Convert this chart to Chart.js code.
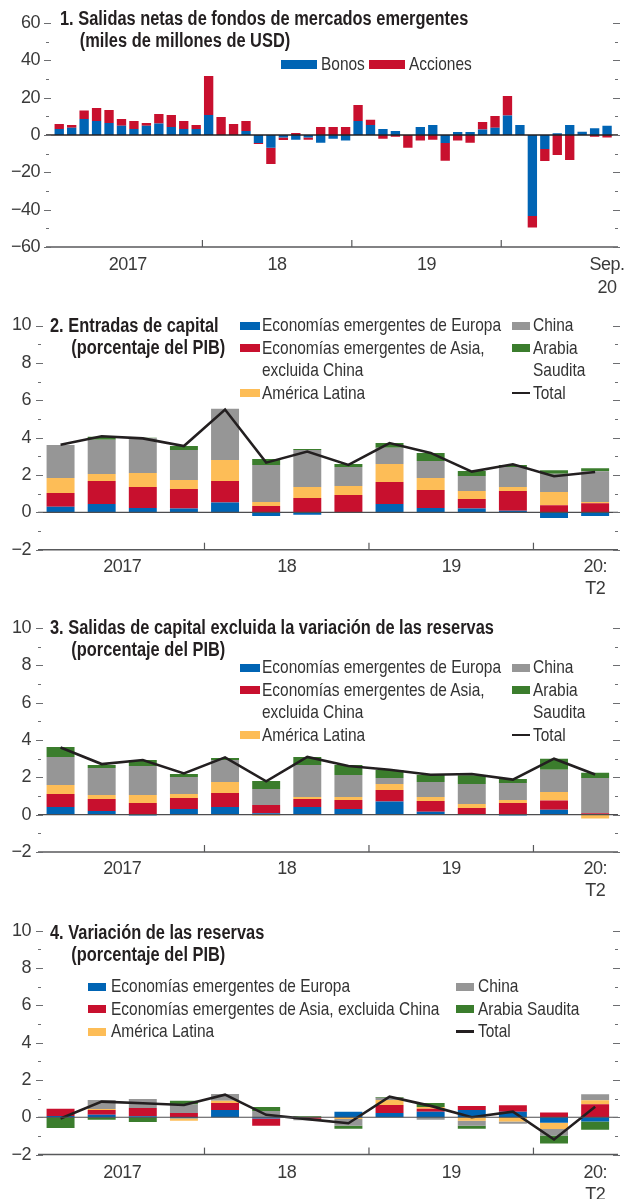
<!DOCTYPE html>
<html lang="es">
<head>
<meta charset="utf-8">
<title>Flujos de capital de mercados emergentes</title>
<script src="https://cdn.jsdelivr.net/npm/chart.js@4.4.1/dist/chart.umd.min.js"></script>
<style>
  html, body { margin: 0; padding: 0; background: #fff; }
  body {
    width: 628px; height: 1199px; position: relative; overflow: hidden;
    font-family: 'Liberation Sans', Arial, sans-serif;
    color: #231f20;
  }
  canvas { position: absolute; left: 0; }
  /* the source uses a condensed face; squeeze a regular one */
  .title { position: absolute; font-weight: bold; font-size: 20px; line-height: 22px; white-space: nowrap;
           transform: scaleX(0.82); transform-origin: left top; z-index: 2; }
  .legend { position: absolute; font-size: 19px; line-height: 22.5px; color: #333; z-index: 2; }
  .legend .item { position: relative; }
  .legend .sw { position: absolute; left: 0; }
  .legend .txt { display: inline-block; transform: scaleX(0.814); transform-origin: left top; }
  .row { display: flex; align-items: center; white-space: nowrap; }
  .row .sw { position: static; margin-right: 4px; }
  .row .txt { margin-right: -6px; }
</style>
</head>
<body>

<div class="title" style="left:60px; top:7px"><div>1. Salidas netas de fondos de mercados emergentes</div><div style="margin-left:24px">(miles de millones de USD)</div></div>
<div class="legend row" id="leg1" style="left:281px; top:53px"></div>
<canvas id="c1" width="628" height="300" style="top:0px"></canvas>

<div class="title" style="left:50px; top:314px"><div>2. Entradas de capital</div><div style="margin-left:26px">(porcentaje del PIB)</div></div>
<div class="legend" id="leg2" style="top:314px"></div>
<canvas id="c2" width="628" height="300" style="top:300px"></canvas>

<div class="title" style="left:50px; top:616px"><div>3. Salidas de capital excluida la variación de las reservas</div><div style="margin-left:26px">(porcentaje del PIB)</div></div>
<div class="legend" id="leg3" style="top:656px"></div>
<canvas id="c3" width="628" height="305" style="top:600px"></canvas>

<div class="title" style="left:50px; top:921px"><div>4. Variación de las reservas</div><div style="margin-left:26px">(porcentaje del PIB)</div></div>
<div class="legend" id="leg4" style="top:975px"></div>
<canvas id="c4" width="628" height="294" style="top:905px"></canvas>

<script>
// ---- data ----
const months = [
  'ene-17', 'feb-17', 'mar-17', 'abr-17', 'may-17', 'jun-17', 'jul-17', 'ago-17', 'sep-17', 'oct-17', 'nov-17', 'dic-17',
  'ene-18', 'feb-18', 'mar-18', 'abr-18', 'may-18', 'jun-18', 'jul-18', 'ago-18', 'sep-18', 'oct-18', 'nov-18', 'dic-18',
  'ene-19', 'feb-19', 'mar-19', 'abr-19', 'may-19', 'jun-19', 'jul-19', 'ago-19', 'sep-19', 'oct-19', 'nov-19', 'dic-19',
  'ene-20', 'feb-20', 'mar-20', 'abr-20', 'may-20', 'jun-20', 'jul-20', 'ago-20', 'sep-20'
];
const bonos = [
  3.2, 3.9, 8.6, 7.5, 6.4, 5.0, 3.2, 5.0, 6.1, 4.3, 3.2, 3.2,
  10.7, 0, 0, 2.1, -4.3, -6.8, -1.4, -2.5, -1.4, -4.1, -2.0, -3.0,
  7.5, 5.4, 3.2, 2.1, 0, 4.3, 5.4, -4.3, 1.6, 1.6, 3.0, 3.9,
  10.4, 5.4, -43.4, -7.5, 0.9, 5.4, 1.8, 3.6, 4.9
];
const acciones = [
  2.7, 1.4, 4.5, 7.0, 7.0, 3.6, 4.3, 1.4, 5.2, 6.4, 4.3, 2.2,
  20.9, 9.6, 5.9, 5.4, -0.5, -8.7, -1.3, 1.1, -1.1, 4.3, 4.3, 4.3,
  8.6, 2.8, -2.0, -0.9, -6.8, -3.0, -2.5, -9.5, -3.0, -4.1, 4.0, 6.3,
  10.5, 0, -6.2, -6.4, -10.7, -13.4, 0, -0.9, -1.4
];
const monthTickLabels = ['2017', '18', '19', ['Sep.', '20']];

const quarters = [
  'T1-17', 'T2-17', 'T3-17', 'T4-17', 'T1-18', 'T2-18', 'T3-18', 'T4-18',
  'T1-19', 'T2-19', 'T3-19', 'T4-19', 'T1-20', 'T2-20'
];
const quarterTickLabels = ['2017', '18', '19', ['20:', 'T2']];

const regionNames = ['Economías emergentes de Europa', 'Economías emergentes de Asia, excluida China',
  'América Latina', 'China', 'Arabia Saudita'];
const totalName = 'Total';

// 2. Entradas de capital
const inEuropa = [0.30, 0.45, 0.23, 0.20, 0.52, -0.20, -0.13, 0.02, 0.45, 0.23, 0.20, 0.09, -0.30, -0.20];
const inAsia   = [0.74, 1.23, 1.13, 1.05, 1.16, 0.34, 0.77, 0.91, 1.18, 0.97, 0.51, 1.05, 0.38, 0.48];
const inLatam  = [0.80, 0.37, 0.75, 0.48, 1.12, 0.21, 0.59, 0.48, 0.96, 0.64, 0.43, 0.22, 0.71, 0.07];
const inChina  = [1.77, 1.84, 1.85, 1.61, 2.74, 1.99, 1.98, 1.02, 0.87, 0.91, 0.81, 1.07, 0.98, 1.65];
const inSaudi  = [0.00, 0.15, 0.03, 0.21, 0.00, 0.32, 0.05, 0.16, 0.25, 0.43, 0.26, 0.11, 0.18, 0.16];
const inTotal  = [3.62, 4.07, 3.96, 3.55, 5.50, 2.66, 3.25, 2.54, 3.71, 3.18, 2.18, 2.57, 1.93, 2.16];

// 3. Salidas de capital excluida la variacion de las reservas
const outEuropa = [0.41, 0.20, -0.05, 0.30, 0.41, 0.07, 0.41, 0.30, 0.70, 0.16, 0.04, -0.05, 0.27, 0.02];
const outAsia   = [0.70, 0.64, 0.63, 0.59, 0.75, 0.45, 0.43, 0.49, 0.62, 0.57, 0.32, 0.63, 0.49, 0.06];
const outLatam  = [0.48, 0.21, 0.42, 0.22, 0.59, -0.05, 0.11, 0.16, 0.32, 0.22, 0.21, 0.16, 0.46, -0.20];
const outChina  = [1.50, 1.45, 1.56, 0.91, 1.18, 0.86, 1.71, 1.18, 0.32, 0.80, 1.07, 0.91, 1.18, 1.89];
const outSaudi  = [0.54, 0.16, 0.32, 0.16, 0.11, 0.42, 0.43, 0.53, 0.43, 0.39, 0.47, 0.21, 0.60, 0.28];
const outTotal  = [3.60, 2.71, 2.93, 2.21, 3.07, 1.79, 3.09, 2.61, 2.41, 2.14, 2.18, 1.88, 3.00, 2.15];

// 4. Variacion de las reservas
const resEuropa = [0.07, 0.14, 0.05, -0.05, 0.39, -0.07, 0.00, 0.29, 0.23, 0.29, 0.39, 0.30, -0.30, -0.23];
const resAsia   = [0.38, 0.25, 0.45, 0.23, 0.38, -0.39, -0.08, 0.00, 0.43, 0.16, 0.22, 0.35, 0.25, 0.70];
const resLatam  = [0.00, 0.05, 0.00, -0.13, 0.11, 0.00, 0.00, -0.09, 0.27, 0.10, -0.18, -0.23, -0.33, 0.21];
const resChina  = [0.00, 0.48, 0.48, 0.45, 0.37, 0.34, -0.08, -0.37, 0.11, -0.13, -0.28, -0.12, -0.35, 0.32];
const resSaudi  = [-0.57, -0.13, -0.25, 0.20, 0.00, 0.21, 0.06, -0.15, 0.05, 0.22, -0.15, 0.00, -0.42, -0.44];
const resTotal  = [-0.07, 0.84, 0.75, 0.66, 1.21, 0.13, -0.10, -0.32, 1.10, 0.61, 0.00, 0.30, -1.19, 0.56];

// ---- styles ----
const FONT = "'Liberation Sans', Arial, sans-serif";
const TEXT = '#3a3a3a';
const AXIS = '#58595b';
const regionColors = ['#0064b4', '#c8102e', '#fdbd57', '#969696', '#3b7d2d'];
const totalColor = '#231f20';

function fmt(v) {
  return v < 0 ? '\u2212' + Math.abs(v) : String(v);
}

// year of a category label, e.g. 'ene-17' -> '17'
function yearOf(c) { return c.slice(-2); }

// where each year starts (boundary ticks) and where the year labels go
function yearLayout(cats) {
  const groups = [];
  cats.forEach((c, i) => {
    const y = yearOf(c);
    if (!groups.length || groups[groups.length - 1].y !== y) groups.push({ y: y, first: i, last: i });
    else groups[groups.length - 1].last = i;
  });
  const starts = groups.slice(1).map(g => g.first);
  const labelPos = groups.map((g, k) => k === groups.length - 1 ? g.last : (g.first + g.last) / 2);
  return { starts, labelPos };
}

// axis frame: zero line, bottom line, year ticks, small ticks on both sides
const framePlugin = {
  id: 'frame',
  beforeDraw(chart) {
    // tighter text, closer to the condensed face of the original
    chart.ctx.letterSpacing = '-0.5px';
  },
  afterDatasetsDraw(chart, args, o) {
    const { ctx, chartArea } = chart;
    const x = chart.scales.x, y = chart.scales.y;
    const L = chartArea.left - o.extL, R = chartArea.right + o.extR;
    ctx.save();
    ctx.lineCap = 'butt';

    const y0 = y.getPixelForValue(0);
    ctx.strokeStyle = o.zeroColor;
    ctx.lineWidth = o.zeroWidth;
    ctx.beginPath(); ctx.moveTo(L, y0); ctx.lineTo(R, y0); ctx.stroke();

    const yb = chartArea.bottom;
    ctx.strokeStyle = AXIS;
    ctx.lineWidth = 1.5;
    ctx.beginPath(); ctx.moveTo(L, yb); ctx.lineTo(R, yb); ctx.stroke();

    ctx.lineWidth = 1.2;
    o.starts.forEach(i => {
      const px = (x.getPixelForValue(i - 1) + x.getPixelForValue(i)) / 2;
      ctx.beginPath(); ctx.moveTo(px, yb); ctx.lineTo(px, yb - 7); ctx.stroke();
    });

    ctx.strokeStyle = '#6d6e71';
    ctx.lineWidth = 1;
    for (let v = y.min; v <= y.max + 1e-9; v += o.minor) {
      const py = Math.round(y.getPixelForValue(v)) + 0.5;
      const major = Math.abs(Math.round(v / o.major) * o.major - v) < 1e-9;
      ctx.beginPath();
      if (major) {
        ctx.moveTo(L - 2, py); ctx.lineTo(L + 5, py);
        ctx.moveTo(R - 5, py); ctx.lineTo(R + 2, py);
      } else {
        ctx.moveTo(L, py); ctx.lineTo(L + 3, py);
        ctx.moveTo(R - 3, py); ctx.lineTo(R, py);
      }
      ctx.stroke();
    }
    ctx.restore();
  }
};

function makeChart(id, p) {
  const yl = yearLayout(p.cats);
  const n = p.cats.length;
  return new Chart(document.getElementById(id), {
    data: { labels: p.cats, datasets: p.datasets },
    plugins: [framePlugin],
    options: {
      responsive: false,
      animation: false,
      events: [],
      layout: { autoPadding: false, padding: { top: p.top, right: p.right, left: 0, bottom: 0 } },
      plugins: {
        legend: { display: false },
        tooltip: { enabled: false },
        frame: { extL: p.extL, extR: p.extR, major: p.major, minor: p.minor, starts: yl.starts,
                 zeroColor: p.zeroColor, zeroWidth: p.zeroWidth }
      },
      datasets: { bar: { categoryPercentage: 1, barPercentage: p.barPct, borderWidth: 0 } },
      scales: {
        x: { type: 'category', stacked: true, offset: true, display: false },
        xl: {
          type: 'linear', position: 'bottom', bounds: 'data',
          min: -0.5, max: n - 0.5,
          grid: { display: false, drawTicks: false }, border: { display: false },
          ticks: {
            autoSkip: false, maxRotation: 0, padding: p.labelPad, color: TEXT,
            font: { family: FONT, size: 18, lineHeight: 1.25 },
            callback: (v, i) => p.tickLabels[i]
          },
          afterBuildTicks: s => { s.ticks = yl.labelPos.map(v => ({ value: v })); },
          afterFit: s => { s.height = p.bottomH; s.paddingLeft = 0; s.paddingRight = 0; }
        },
        y: {
          type: 'linear', stacked: true, min: p.min, max: p.max,
          grid: { display: false, drawTicks: false }, border: { display: false },
          ticks: {
            stepSize: p.minor, autoSkip: false, padding: p.yPad, color: TEXT,
            font: { family: FONT, size: 18 },
            callback: v => (Math.abs(v % p.major) < 1e-9 ? fmt(v) : '')
          },
          afterFit: s => { s.width = p.left; s.paddingTop = 0; s.paddingBottom = 0; }
        }
      }
    }
  });
}

function regionDatasets(series, total) {
  const ds = series.map((vals, k) => ({
    type: 'bar', label: regionNames[k], data: vals, backgroundColor: regionColors[k],
    xAxisID: 'x', yAxisID: 'y', order: 1
  }));
  ds.push({
    type: 'line', label: totalName, data: total, borderColor: totalColor, borderWidth: 2.6,
    pointRadius: 0, tension: 0, borderJoinStyle: 'miter', xAxisID: 'x', yAxisID: 'y', order: 0
  });
  return ds;
}

// ---- panel 1 ----
const c1 = makeChart('c1', {
  cats: months, tickLabels: monthTickLabels,
  datasets: [
    { type: 'bar', label: 'Bonos', data: bonos, backgroundColor: '#0064b4', xAxisID: 'x', yAxisID: 'y' },
    { type: 'bar', label: 'Acciones', data: acciones, backgroundColor: '#c8102e', xAxisID: 'x', yAxisID: 'y' }
  ],
  min: -60, max: 60, major: 20, minor: 10,
  top: 23, bottomH: 53, left: 53, right: 14.7, extL: 7, extR: 4.7,
  barPct: 0.75, yPad: 13, labelPad: 7, zeroColor: '#231f20', zeroWidth: 1.3
});

// ---- panels 2 to 4 ----
const common = { cats: quarters, tickLabels: quarterTickLabels, min: -2, max: 10, major: 2, minor: 1,
  left: 40, right: 12.3, extL: 2, extR: 2.3, barPct: 0.68, yPad: 9, zeroColor: '#4d4d4f', zeroWidth: 1.2 };

const c2 = makeChart('c2', Object.assign({}, common, {
  datasets: regionDatasets([inEuropa, inAsia, inLatam, inChina, inSaudi], inTotal),
  top: 25.5, bottomH: 50.3, labelPad: 6
}));
const c3 = makeChart('c3', Object.assign({}, common, {
  datasets: regionDatasets([outEuropa, outAsia, outLatam, outChina, outSaudi], outTotal),
  top: 28, bottomH: 53, labelPad: 5.75
}));
const c4 = makeChart('c4', Object.assign({}, common, {
  datasets: regionDatasets([resEuropa, resAsia, resLatam, resChina, resSaudi], resTotal),
  top: 25.6, bottomH: 44.4, labelPad: 7
}));

// ---- legends (html, built from the chart datasets) ----
function swatch(ds, w, h) {
  const s = document.createElement('span');
  s.className = 'sw';
  s.style.display = 'inline-block';
  s.style.width = w + 'px';
  if (ds.type === 'line') {
    s.style.height = '2.6px'; s.style.background = ds.borderColor;
  } else {
    s.style.height = h + 'px'; s.style.background = ds.backgroundColor;
  }
  return s;
}

function label(text, wrapWidth) {
  const t = document.createElement('span');
  t.className = 'txt';
  if (wrapWidth) t.style.width = wrapWidth + 'px';
  t.textContent = text;
  return t;
}

function rowLegend(el, chart, w, h) {
  chart.data.datasets.forEach(ds => {
    el.appendChild(swatch(ds, w, h));
    el.appendChild(label(ds.label));
  });
}

function columnLegend(el, chart, cols) {
  const dss = chart.data.datasets;
  cols.forEach(col => {
    const c = document.createElement('div');
    c.style.position = 'absolute';
    c.style.left = col.left + 'px';
    c.style.top = '0px';
    col.items.forEach(k => {
      const ds = dss[k];
      const it = document.createElement('div');
      it.className = 'item';
      it.style.paddingLeft = col.gap + 'px';
      const s = swatch(ds, col.sw, 8);
      s.style.top = ds.type === 'line' ? '10px' : '7.5px';
      it.appendChild(s);
      it.appendChild(label(ds.label, col.wrap));
      c.appendChild(it);
    });
    el.appendChild(c);
  });
}

rowLegend(document.getElementById('leg1'), c1, 36, 9);
const cols23 = [{ left: 240, gap: 22, sw: 20, wrap: 310, items: [0, 1, 2] },
                { left: 512, gap: 21, sw: 18, wrap: 80, items: [3, 4, 5] }];
columnLegend(document.getElementById('leg2'), c2, cols23);
columnLegend(document.getElementById('leg3'), c3, cols23);
columnLegend(document.getElementById('leg4'), c4,
  [{ left: 88, gap: 23, sw: 18, wrap: 460, items: [0, 1, 2] },
   { left: 456, gap: 22, sw: 18, wrap: 200, items: [3, 4, 5] }]);
</script>
</body>
</html>
